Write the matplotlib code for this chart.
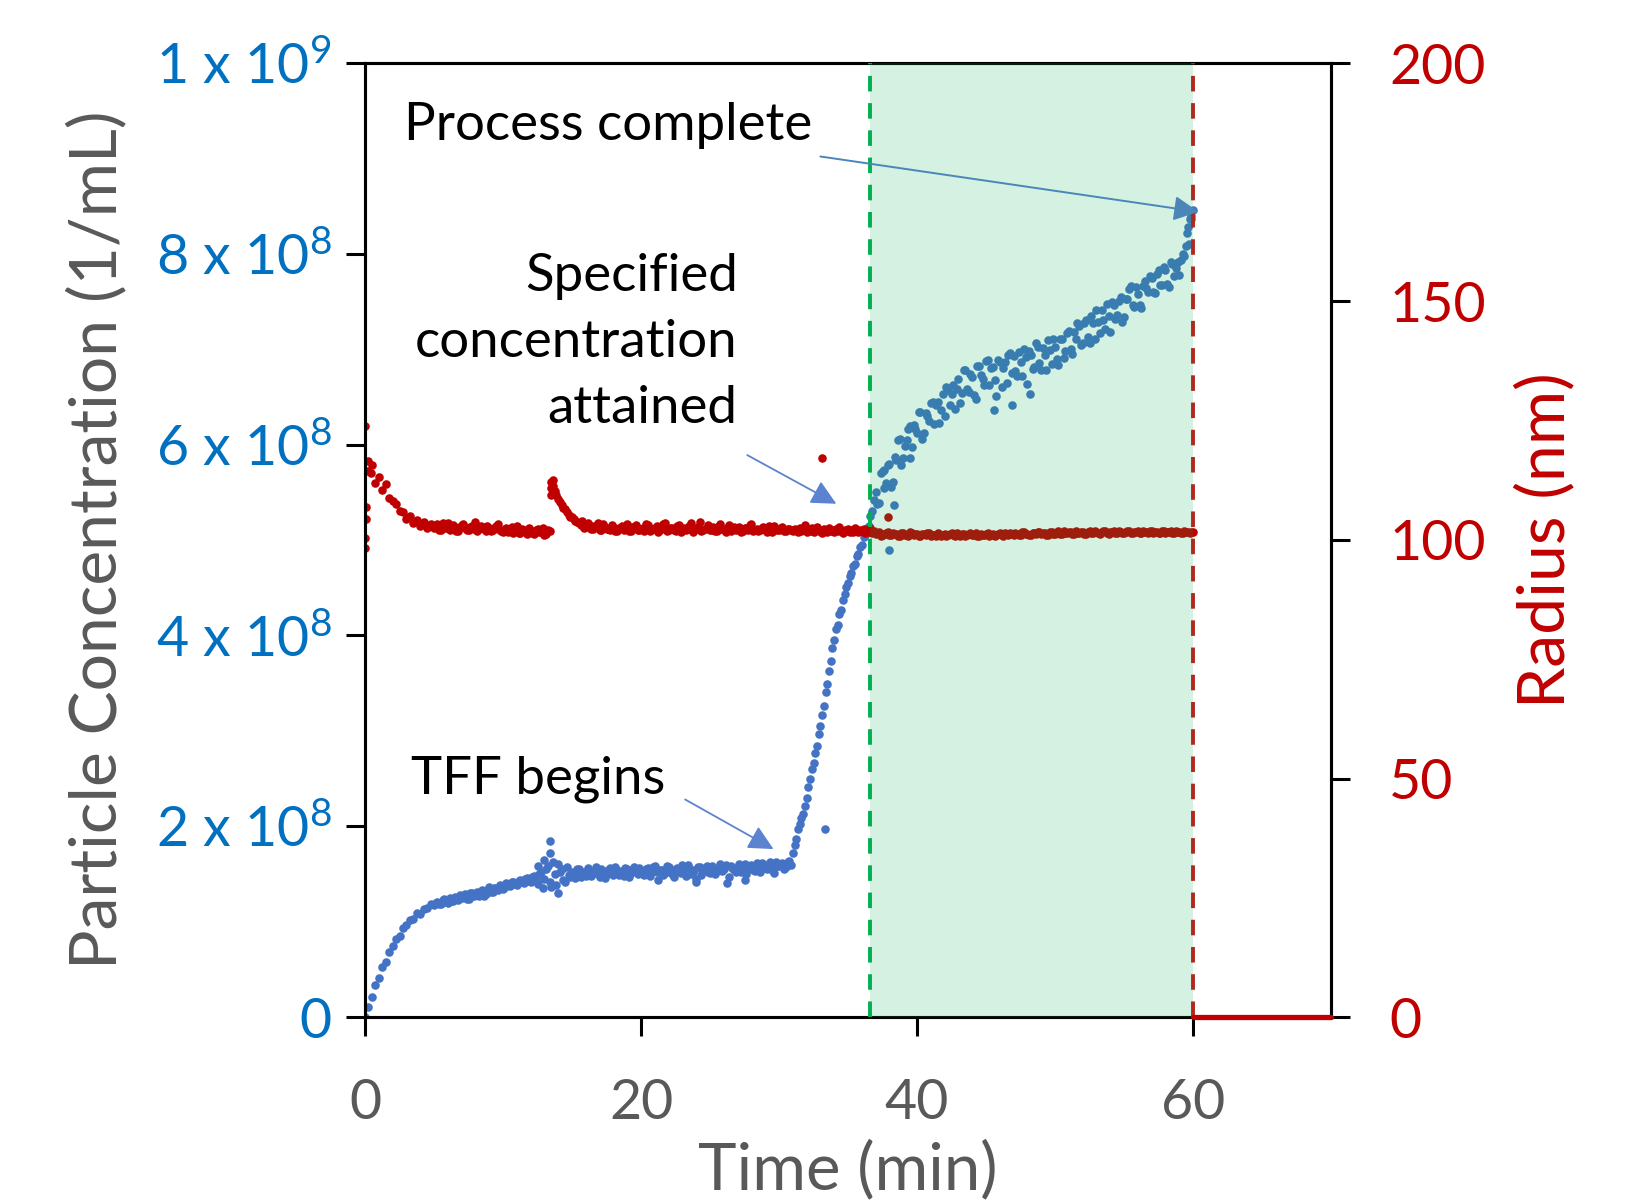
import numpy as np
import matplotlib.pyplot as plt

# -------------------------------------------------------------------------
# DATA
# -------------------------------------------------------------------------
# sample times [min], shared by both series
time_min = [
    0, 0.25, 0.5, 0.75, 1, 1.25, 1.5, 1.75, 2, 2.25, 2.5, 2.75, 3, 3.25, 3.5, 3.75, 4, 4.25, 4.5, 4.75,
    5, 5.25, 5.5, 5.75, 6, 6.25, 6.5, 6.75, 7, 7.25, 7.5, 7.75, 8, 8.25, 8.5, 8.75, 9, 9.25, 9.5, 9.75,
    10, 10.25, 10.5, 10.75, 11, 11.25, 11.5, 11.75, 12, 12.25, 12.5, 12.75, 13, 13.25, 13.5, 13.75, 14, 14.25, 14.5, 14.75,
    15, 15.25, 15.5, 15.75, 16, 16.25, 16.5, 16.75, 17, 17.25, 17.5, 17.75, 18, 18.25, 18.5, 18.75, 19, 19.25, 19.5, 19.75,
    20, 20.25, 20.5, 20.75, 21, 21.25, 21.5, 21.75, 22, 22.25, 22.5, 22.75, 23, 23.25, 23.5, 23.75, 24, 24.25, 24.5, 24.75,
    25, 25.25, 25.5, 25.75, 26, 26.25, 26.5, 26.75, 27, 27.25, 27.5, 27.75, 28, 28.25, 28.5, 28.75, 29, 29.25, 29.5, 29.75,
    30, 30.25, 30.5, 30.75,
    31, 31.125, 31.25, 31.375, 31.5, 31.625, 31.75, 31.875,
    32, 32.125, 32.25, 32.375, 32.5, 32.625, 32.75, 32.875,
    33, 33.125, 33.25, 33.375, 33.5, 33.625, 33.75, 33.875,
    34, 34.125, 34.25, 34.375, 34.5, 34.625, 34.75, 34.875,
    35, 35.125, 35.25, 35.375, 35.5, 35.625, 35.75, 35.875,
    36, 36.125, 36.25, 36.375, 36.5, 36.625, 36.75, 36.875,
    37, 37.25, 37.5, 37.75, 38, 38.25, 38.5, 38.75, 39, 39.25, 39.5, 39.75, 40, 40.25, 40.5, 40.75, 41, 41.25, 41.5, 41.75,
    42, 42.25, 42.5, 42.75, 43, 43.25, 43.5, 43.75, 44, 44.25, 44.5, 44.75, 45, 45.25, 45.5, 45.75, 46, 46.25, 46.5, 46.75,
    47, 47.25, 47.5, 47.75, 48, 48.25, 48.5, 48.75, 49, 49.25, 49.5, 49.75, 50, 50.25, 50.5, 50.75, 51, 51.25, 51.5, 51.75,
    52, 52.25, 52.5, 52.75, 53, 53.25, 53.5, 53.75, 54, 54.25, 54.5, 54.75, 55, 55.25, 55.5, 55.75, 56, 56.25, 56.5, 56.75,
    57, 57.25, 57.5, 57.75, 58, 58.25, 58.5, 58.75, 59, 59.25, 59.5, 59.75,
    60,
]

# particle concentration [x 1e8 / mL]
conc_1e8 = [
    0.00, 0.11, 0.21, 0.34, 0.41, 0.52, 0.58, 0.68, 0.74, 0.82, 0.85, 0.93, 0.96, 1.02, 1.03, 1.09, 1.08, 1.13, 1.14, 1.18,
    1.17, 1.21, 1.18, 1.24, 1.20, 1.22, 1.26, 1.23, 1.25, 1.29, 1.24, 1.30, 1.28, 1.27, 1.33, 1.29, 1.36, 1.31, 1.35, 1.38,
    1.34, 1.40, 1.37, 1.42, 1.38, 1.44, 1.40, 1.46, 1.42, 1.48, 1.39, 1.52, 1.45, 1.58, 1.36, 1.50, 1.30, 1.55, 1.42, 1.49,
    1.52, 1.46, 1.55, 1.50, 1.48, 1.54, 1.51, 1.57, 1.47, 1.53, 1.50, 1.56, 1.49, 1.54, 1.52, 1.48, 1.55, 1.51, 1.57, 1.50,
    1.53, 1.49, 1.56, 1.52, 1.58, 1.44, 1.54, 1.51, 1.57, 1.50, 1.55, 1.53, 1.59, 1.48, 1.56, 1.52, 1.41, 1.57, 1.54, 1.58,
    1.51, 1.56, 1.53, 1.60, 1.55, 1.40, 1.58, 1.54, 1.57, 1.52, 1.60, 1.55, 1.59, 1.53, 1.58, 1.61, 1.56, 1.60, 1.54, 1.62,
    1.58, 1.61, 1.57, 1.63,
    1.72, 1.80, 1.87, 1.97, 2.02, 2.09, 2.13, 2.21,
    2.30, 2.41, 2.49, 2.60, 2.66, 2.77, 2.84, 2.97,
    3.05, 3.17, 3.26, 3.41, 3.49, 3.63, 3.73, 3.87,
    3.95, 4.07, 4.11, 4.22, 4.27, 4.37, 4.43, 4.51,
    4.55, 4.62, 4.65, 4.73, 4.75, 4.83, 4.85, 4.93,
    4.95, 5.03, 5.05, 5.13, 5.15, 5.25, 5.30, 5.42,
    5.50, 5.39, 5.72, 5.60, 5.80, 5.61, 5.84, 6.06, 5.86, 6.05, 5.86, 6.21, 6.12, 6.34, 6.12, 6.30, 6.44, 6.22, 6.45, 6.36,
    6.30, 6.57, 6.53, 6.37, 6.69, 6.54, 6.78, 6.55, 6.71, 6.48, 6.82, 6.69, 6.88, 6.62, 6.81, 6.51, 6.87, 6.80, 6.65, 6.96,
    6.93, 6.72, 6.87, 7.00, 6.63, 6.94, 6.81, 7.02, 6.78, 6.94, 7.10, 6.85, 7.02, 6.83, 7.11, 6.98, 7.19, 6.95, 7.11, 7.24,
    7.06, 7.31, 7.06, 7.27, 7.41, 7.17, 7.31, 7.47, 7.18, 7.46, 7.36, 7.55, 7.34, 7.53, 7.66, 7.44, 7.58, 7.43, 7.72, 7.60,
    7.75, 7.59, 7.83, 7.67, 7.83, 7.65, 7.89, 7.85, 7.78, 8.00, 8.08, 8.36,
    8.46,
]

# radius [nm]
radius_nm = [
    123.8, 114.5, 115.8, 112.0, 113.2, 110.4, 111.8, 108.9, 108.2, 107.6, 106.1, 105.8, 104.4, 105.0, 103.6, 104.2, 103.0, 103.8, 102.6, 103.4,
    102.5, 103.3, 102.2, 102.9, 103.6, 102.4, 102.8, 101.9, 103.1, 102.5, 102.0, 102.9, 103.8, 102.3, 102.7, 101.8, 102.6, 102.1, 103.0, 102.2,
    101.7, 102.6, 102.0, 101.5, 102.9, 101.4, 102.1, 101.3, 101.9, 101.2, 102.3, 101.6, 101.0, 102.0, 112.2, 110.3, 108.6, 107.4, 106.5, 105.2,
    104.8, 104.0, 103.5, 103.9, 102.8, 103.2, 102.4, 102.9, 102.1, 103.4, 102.3, 102.0, 102.7, 101.9, 102.5, 102.2, 103.3, 101.8, 102.6, 102.1,
    102.4, 101.9, 103.1, 102.2, 102.6, 101.7, 102.8, 103.6, 102.0, 102.5, 101.8, 103.2, 102.3, 102.0, 102.9, 101.6, 102.4, 103.7, 102.1, 102.6,
    102.0, 102.7, 101.8, 103.3, 102.2, 102.5, 101.9, 102.8, 102.3, 101.7, 102.6, 102.0, 103.4, 102.2, 101.8, 102.5, 102.1, 102.9, 101.6, 102.4,
    102.0, 102.7, 101.9, 102.3,
    101.8, 102.4, 102.0, 101.6, 102.6, 101.9, 102.2, 103.1,
    101.7, 102.3, 101.9, 102.5, 101.6, 102.1, 102.8, 101.8,
    102.2, 101.5, 102.4, 102.0, 101.7, 102.6, 101.9, 102.1,
    101.6, 102.3, 101.8, 102.7, 101.9, 101.5, 102.2, 101.8,
    102.4, 101.6, 102.0, 101.7, 102.5, 101.9, 101.6, 102.1,
    101.8, 102.3, 101.5, 102.0, 101.7, 102.6, 101.4, 101.9,
    101.3, 101.6, 101.1, 101.4, 101.0, 101.5, 101.2, 100.9, 101.4, 101.1, 101.6, 101.0, 101.3, 100.8, 101.2, 101.5, 100.9, 101.1, 101.4, 100.8,
    101.2, 101.0, 101.5, 100.9, 101.1, 101.3, 100.8, 101.2, 101.0, 101.4, 100.9, 101.1, 101.3, 100.8, 101.2, 101.0, 101.4, 100.9, 101.2, 101.5,
    101.0, 101.3, 101.1, 101.6, 101.2, 101.0, 101.4, 101.7, 101.2, 101.5, 101.1, 101.6, 101.3, 101.8, 101.2, 101.5, 101.7, 101.3, 101.9, 101.4,
    101.6, 101.2, 101.8, 101.5, 101.7, 101.3, 101.9, 101.5, 101.6, 101.8, 101.4, 101.7, 101.5, 101.9, 101.4, 101.6, 101.8, 101.5, 101.7, 101.4,
    101.8, 101.6, 101.5, 101.9, 101.4, 101.7, 101.5, 101.8, 101.6, 101.4, 101.7, 101.5,
    101.6,
]

# interleaved readings between the main samples
time_mid = [
    5.125, 5.375, 5.625, 5.875, 6.125, 6.375, 6.625, 6.875, 7.125, 7.375, 7.625, 7.875, 8.125, 8.375, 8.625, 8.875, 9.125, 9.375, 9.625, 9.875,
    10.125, 10.375, 10.625, 10.875, 11.125, 11.375, 11.625, 11.875, 12.125, 12.375, 12.625, 12.875, 13.125, 13.375, 13.625, 13.875, 14.125, 14.375, 14.625, 14.875,
    15.125, 15.375, 15.625, 15.875, 16.125, 16.375, 16.625, 16.875, 17.125, 17.375, 17.625, 17.875, 18.125, 18.375, 18.625, 18.875, 19.125, 19.375, 19.625, 19.875,
    20.125, 20.375, 20.625, 20.875, 21.125, 21.375, 21.625, 21.875, 22.125, 22.375, 22.625, 22.875, 23.125, 23.375, 23.625, 23.875, 24.125, 24.375, 24.625, 24.875,
    25.125, 25.375, 25.625, 25.875, 26.125, 26.375, 26.625, 26.875, 27.125, 27.375, 27.625, 27.875, 28.125, 28.375, 28.625, 28.875, 29.125, 29.375, 29.625, 29.875,
    30.125, 30.375, 30.625, 30.875,
    37.125, 37.375, 37.625, 37.875, 38.125, 38.375, 38.625, 38.875, 39.125, 39.375, 39.625, 39.875, 40.125, 40.375, 40.625, 40.875, 41.125, 41.375, 41.625, 41.875,
    42.125, 42.375, 42.625, 42.875, 43.125, 43.375, 43.625, 43.875, 44.125, 44.375, 44.625, 44.875, 45.125, 45.375, 45.625, 45.875, 46.125, 46.375, 46.625, 46.875,
    47.125, 47.375, 47.625, 47.875, 48.125, 48.375, 48.625, 48.875, 49.125, 49.375, 49.625, 49.875, 50.125, 50.375, 50.625, 50.875, 51.125, 51.375, 51.625, 51.875,
    52.125, 52.375, 52.625, 52.875, 53.125, 53.375, 53.625, 53.875, 54.125, 54.375, 54.625, 54.875, 55.125, 55.375, 55.625, 55.875, 56.125, 56.375, 56.625, 56.875,
    57.125, 57.375, 57.625, 57.875, 58.125, 58.375, 58.625, 58.875, 59.125, 59.375, 59.625, 59.875,
]

conc_mid_1e8 = [
    1.20, 1.18, 1.23, 1.21, 1.25, 1.22, 1.24, 1.28, 1.26, 1.24, 1.30, 1.27, 1.31, 1.29, 1.27, 1.33, 1.31, 1.35, 1.33, 1.37,
    1.36, 1.38, 1.41, 1.39, 1.43, 1.41, 1.45, 1.43, 1.47, 1.44, 1.50, 1.35, 1.55, 1.42, 1.62, 1.38, 1.52, 1.44, 1.57, 1.47,
    1.49, 1.55, 1.47, 1.52, 1.56, 1.48, 1.53, 1.50, 1.55, 1.46, 1.54, 1.51, 1.57, 1.49, 1.53, 1.56, 1.47, 1.54, 1.52, 1.56,
    1.50, 1.55, 1.48, 1.57, 1.52, 1.54, 1.49, 1.58, 1.53, 1.47, 1.56, 1.51, 1.55, 1.59, 1.50, 1.54, 1.57, 1.49, 1.56, 1.52,
    1.58, 1.50, 1.55, 1.53, 1.59, 1.47, 1.56, 1.52, 1.60, 1.55, 1.50, 1.58, 1.54, 1.61, 1.52, 1.57, 1.55, 1.62, 1.51, 1.58,
    1.60, 1.55, 1.62, 1.59,
    5.38, 5.70, 5.55, 5.79, 5.56, 5.87, 6.05, 5.79, 5.99, 6.16, 5.97, 6.16, 6.34, 6.06, 6.33, 6.25, 6.45, 6.41, 6.23, 6.53,
    6.60, 6.42, 6.62, 6.58, 6.44, 6.78, 6.58, 6.74, 6.52, 6.82, 6.73, 6.62, 6.89, 6.80, 6.68, 6.89, 6.60, 6.87, 6.94, 6.75,
    6.77, 6.97, 6.72, 6.92, 6.98, 6.79, 7.06, 6.86, 7.01, 6.78, 6.99, 7.11, 6.90, 7.11, 6.91, 7.17, 7.00, 7.18, 7.27, 7.04,
    7.27, 7.13, 7.35, 7.11, 7.29, 7.41, 7.21, 7.35, 7.50, 7.32, 7.51, 7.29, 7.53, 7.63, 7.46, 7.65, 7.46, 7.66, 7.64, 7.77,
    7.60, 7.79, 7.67, 7.86, 7.68, 7.91, 7.77, 7.91, 7.93, 7.98, 8.28, 8.36,
]

radius_mid_nm = [
    103.0, 102.1, 103.5, 102.6, 102.2, 103.2, 101.9, 102.7, 103.4, 102.0, 102.8, 102.3, 101.8, 103.0, 102.4, 102.9, 101.9, 102.5, 103.3, 101.8,
    102.3, 101.6, 102.7, 102.1, 101.5, 102.4, 101.8, 102.6, 101.4, 102.0, 101.7, 102.5, 101.3, 101.9, 111.4, 109.5, 108.0, 106.8, 105.9, 104.9,
    104.3, 103.7, 103.2, 102.6, 103.5, 102.3, 102.9, 103.6, 102.1, 102.8, 102.4, 103.2, 101.9, 102.6, 103.0, 102.3, 101.8, 102.7, 103.1, 102.0,
    102.6, 103.4, 101.8, 102.3, 102.9, 102.1, 103.3, 101.9, 102.5, 102.2, 103.0, 101.7, 102.6, 102.4, 103.5, 102.0, 102.8, 101.9, 102.3, 103.1,
    102.2, 101.9, 102.9, 102.4, 101.7, 103.1, 102.3, 102.0, 102.7, 101.8, 102.5, 103.2, 101.9, 102.4, 102.1, 102.8, 101.7, 102.3, 103.0, 102.0,
    102.5, 101.8, 102.4, 102.1,
    101.5, 100.9, 101.3, 101.7, 101.0, 101.2, 100.8, 101.4, 101.1, 100.9, 101.5, 101.2, 100.8, 101.3, 101.0, 101.4, 101.1, 100.9, 101.3, 101.0,
    100.9, 101.3, 101.1, 101.4, 100.8, 101.2, 101.0, 101.5, 101.1, 100.9, 101.3, 101.0, 101.4, 101.1, 100.9, 101.3, 101.1, 101.5, 101.0, 101.2,
    101.4, 101.1, 101.6, 101.3, 101.0, 101.5, 101.2, 101.6, 101.4, 101.1, 101.7, 101.3, 101.5, 101.2, 101.8, 101.4, 101.6, 101.3, 101.5, 101.7,
    101.3, 101.7, 101.5, 101.9, 101.4, 101.6, 101.8, 101.3, 101.7, 101.5, 101.9, 101.4, 101.6, 101.8, 101.5, 101.7, 101.4, 101.9, 101.6, 101.8,
    101.5, 101.7, 101.4, 101.8, 101.6, 101.9, 101.5, 101.7, 101.4, 101.8, 101.6, 101.7,
]

# scattered extra readings
conc_extra_time = [13.4, 13.4, 33.3, 38.0, 38.3, 45.6, 46.9, 48.2, 13.0, 12.5, 14.0, 37.6, 39.5, 27.5, 24.0,
                   59.55, 59.7, 59.85]
conc_extra_1e8 = [1.84, 1.72, 1.97, 4.90, 5.37, 6.36, 6.42, 6.53, 1.65, 1.58, 1.60, 5.73, 6.20, 1.44, 1.45,
                  8.22, 8.10, 8.40]
radius_extra_time = [0, 0, 0.05, 0.1, 13.5, 13.5, 13.6, 33.1, 0.2, 0.4, 37.9]
radius_extra_nm = [100.4, 98.3, 104.5, 107.0, 111.0, 109.4, 112.5, 117.1, 116.5, 114.0, 104.9]

# after the process ends the radius reads 0
post_time = [60, 70]
post_radius = [0, 0]

target_reached_min = 36.6
process_end_min = 60

conc_ticks = [0, 2, 4, 6, 8, 10]
conc_tick_labels = ['0', '2 x 10$^8$', '4 x 10$^8$', '6 x 10$^8$', '8 x 10$^8$', '1 x 10$^9$']
radius_ticks = [0, 50, 100, 150, 200]
time_ticks = [0, 20, 40, 60]

# -------------------------------------------------------------------------
# STYLE
# -------------------------------------------------------------------------
plt.rcParams['font.family'] = ['Lato', 'DejaVu Sans']
plt.rcParams['mathtext.fontset'] = 'custom'
plt.rcParams['mathtext.rm'] = 'Lato'
plt.rcParams['mathtext.default'] = 'regular'

BLUE = '#4472C4'
TICK_BLUE = '#0070C0'
RED = '#C00000'
GRAY = '#595959'
GREEN = '#00B050'
DOT = 38

fig = plt.figure(figsize=(16.39, 12), dpi=100)
ax = fig.add_axes([0.2227, 0.1525, 0.5894, 0.795])
ax2 = ax.twinx()

# -------------------------------------------------------------------------
# PLOT
# -------------------------------------------------------------------------
for t, c in [(time_min, conc_1e8), (time_mid, conc_mid_1e8), (conc_extra_time, conc_extra_1e8)]:
    ax.scatter(t, c, s=DOT, color=BLUE, linewidths=0, zorder=2)

for t, r in [(time_min, radius_nm), (time_mid, radius_mid_nm), (radius_extra_time, radius_extra_nm)]:
    ax2.scatter(t, r, s=DOT, color=RED, linewidths=0, zorder=2)
ax2.plot(post_time, post_radius, color=RED, lw=3.8, solid_capstyle='round', clip_on=False, zorder=6)

ax2.axvspan(target_reached_min, process_end_min, color=GREEN, alpha=0.17, lw=0, zorder=3)
ax2.axvline(target_reached_min, color=GREEN, lw=2.8, ls=(0, (4, 3)), zorder=4)
ax2.axvline(process_end_min, color='#B0281E', lw=2.8, ls=(0, (4, 3)), zorder=4)

ax.set_xlim(0, 70)
ax.set_ylim(0, 10)
ax2.set_ylim(0, 200)

ax.set_xticks(time_ticks)
ax.set_yticks(conc_ticks)
ax.set_yticklabels(conc_tick_labels)
ax2.set_yticks(radius_ticks)

for a in (ax, ax2):
    for sp in a.spines.values():
        sp.set_linewidth(2.2)
        sp.set_color('black')

ax.tick_params(axis='x', direction='out', length=14, width=2.2, labelsize=40,
               labelcolor=GRAY, pad=30)
ax.tick_params(axis='y', direction='out', length=14, width=2.2, labelsize=40,
               labelcolor=TICK_BLUE, pad=10)
ax2.tick_params(axis='y', direction='out', length=14, width=2.2, labelsize=40,
                labelcolor=RED, pad=28)

ax.set_xlabel('Time (min)', fontsize=47, color=GRAY, va='top')
ax.xaxis.set_label_coords(0.5, -0.128)
ax.set_ylabel('Particle Concentration (1/mL)', fontsize=47.5, color=GRAY, va='center')
ax.yaxis.set_label_coords(-0.278, 0.5)
ax2.set_ylabel('Radius (nm)', fontsize=47.5, color=RED, rotation=90, va='center')
ax2.yaxis.set_label_coords(1.221, 0.5)

# -------------------------------------------------------------------------
# ANNOTATIONS
# -------------------------------------------------------------------------
ax2.text(2.8, 187.0, 'Process complete', fontsize=38, va='center', ha='left', zorder=7)
ax2.annotate('', xy=(60.4, 168.8), xytext=(33.0, 180.4), zorder=7,
             arrowprops=dict(arrowstyle='-|>', color='#4A86B8', lw=1.4,
                             mutation_scale=38, shrinkA=0, shrinkB=0))
ax2.text(27.0, 141.4, 'Specified\nconcentration\nattained', fontsize=38,
         ha='right', va='center', multialignment='right', linespacing=1.5, zorder=7)
ax2.annotate('', xy=(34.15, 107.6), xytext=(27.7, 117.8), zorder=7,
             arrowprops=dict(arrowstyle='-|>', color='#5B83CF', lw=1.3,
                             mutation_scale=38, shrinkA=0, shrinkB=0))
ax2.text(3.3, 49.8, 'TFF begins', fontsize=38, ha='left', va='center', zorder=7)
ax2.annotate('', xy=(29.6, 35.2), xytext=(23.2, 45.6), zorder=7,
             arrowprops=dict(arrowstyle='-|>', color='#5B83CF', lw=1.3,
                             mutation_scale=38, shrinkA=0, shrinkB=0))

fig.savefig('out.png', dpi=100)
